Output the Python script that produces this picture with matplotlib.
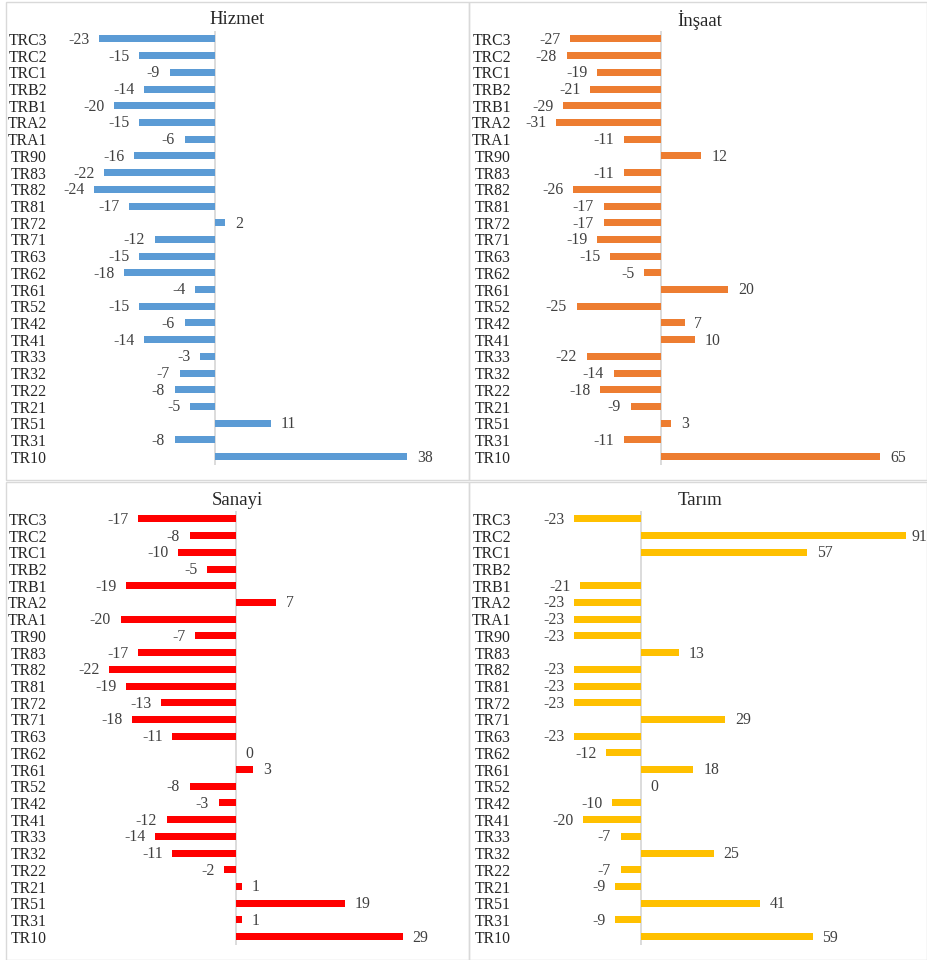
import matplotlib
matplotlib.use("Agg")
import matplotlib.pyplot as plt
from matplotlib.patches import Rectangle
import numpy as np

regions = ["TRC3", "TRC2", "TRC1", "TRB2", "TRB1", "TRA2", "TRA1", "TR90", "TR83", "TR82",
           "TR81", "TR72", "TR71", "TR63", "TR62", "TR61", "TR52", "TR42", "TR41", "TR33",
           "TR32", "TR22", "TR21", "TR51", "TR31", "TR10"]

hizmet = [-23, -15, -9, -14, -20, -15, -6, -16, -22, -24, -17, 2, -12, -15, -18, -4, -15, -6,
          -14, -3, -7, -8, -5, 11, -8, 38]
insaat = [-27, -28, -19, -21, -29, -31, -11, 12, -11, -26, -17, -17, -19, -15, -5, 20, -25, 7,
          10, -22, -14, -18, -9, 3, -11, 65]
sanayi = [-17, -8, -10, -5, -19, 7, -20, -7, -17, -22, -19, -13, -18, -11, 0, 3, -8, -3, -12,
          -14, -11, -2, 1, 19, 1, 29]
tarim = [-23, 91, 57, None, -21, -23, -23, -23, 13, -23, -23, -23, 29, -23, -12, 18, 0, -10,
         -20, -7, 25, -7, -9, 41, -9, 59]

titles = ["Hizmet", "İnşaat", "Sanayi", "Tarım"]

W, H = 927, 960
fig = plt.figure(figsize=(W / 100, H / 100), dpi=100)
FONT = "Liberation Serif"
TXT = "#404040"
FS = 11.3

def fx(x):
    return x / W

def fy(y):
    return 1 - y / H

# panel borders (pixel boxes)
borders = [(6, 2, 469, 480), (469, 2, 927, 480), (6, 482, 469, 960), (469, 482, 927, 960)]
for (x0, y0, x1, y1) in borders:
    fig.add_artist(Rectangle((fx(x0), fy(y1)), fx(x1) - fx(x0), fy(y0) - fy(y1),
                             transform=fig.transFigure, fill=False,
                             edgecolor="#D9D9D9", lw=1.0))

# panel specs: data, color, axes px box (left, right, top, bottom), xlim, title position
panels = [
    (hizmet, "#5B9BD5", (52, 460, 30.6, 465.0), (-32.3, 48.5), (237, 20)),
    (insaat, "#ED7D31", (516, 925, 30.6, 465.0), (-43.0, 78.3), (700, 20)),
    (sanayi, "#FF0000", (52, 460, 510.6, 945.0), (-31.9, 38.9), (237, 500)),
    (tarim, "#FFC000", (516, 925, 510.6, 945.0), (-43.0, 97.6), (700, 500)),
]

ypos = np.arange(len(regions))
for (vals, color, box, xlim, tpos), title in zip(panels, titles):
    l, r, t, b = box
    ax = fig.add_axes([fx(l), fy(b), fx(r) - fx(l), fy(t) - fy(b)])
    v = np.array([np.nan if x is None else x for x in vals], dtype=float)
    ax.barh(ypos, np.nan_to_num(v), height=0.42, color=color, zorder=2)
    ax.axvline(0, color="#D9D9D9", lw=1.3, zorder=1)
    ax.set_xlim(*xlim)
    ax.set_ylim(len(regions) - 0.5, -0.5)
    ax.set_yticks(ypos)
    ax.set_yticklabels(regions, fontfamily=FONT, fontsize=FS, color="#262626")
    ax.tick_params(axis="y", length=0, pad=3.6)
    ax.set_xticks([])
    for s in ax.spines.values():
        s.set_visible(False)
    ax.patch.set_alpha(0)
    for yi, val in zip(ypos, v):
        if np.isnan(val):
            continue
        if val < 0:
            ax.annotate(f"{int(val)}", (val, yi), xytext=(-7, 0.8), textcoords="offset points",
                        ha="right", va="center_baseline", fontfamily=FONT, fontsize=FS,
                        color=TXT)
        else:
            off = 4 if val > 0.9 * xlim[1] else 7
            ax.annotate(f"{int(val)}", (val, yi), xytext=(off, 0.8), textcoords="offset points",
                        ha="left", va="center_baseline", fontfamily=FONT, fontsize=FS,
                        color=TXT, annotation_clip=False)
    fig.text(fx(tpos[0]), fy(tpos[1]), title, ha="center", va="center",
             fontfamily=FONT, fontsize=13.5, color="#262626")

fig.savefig("out.png", dpi=100)
